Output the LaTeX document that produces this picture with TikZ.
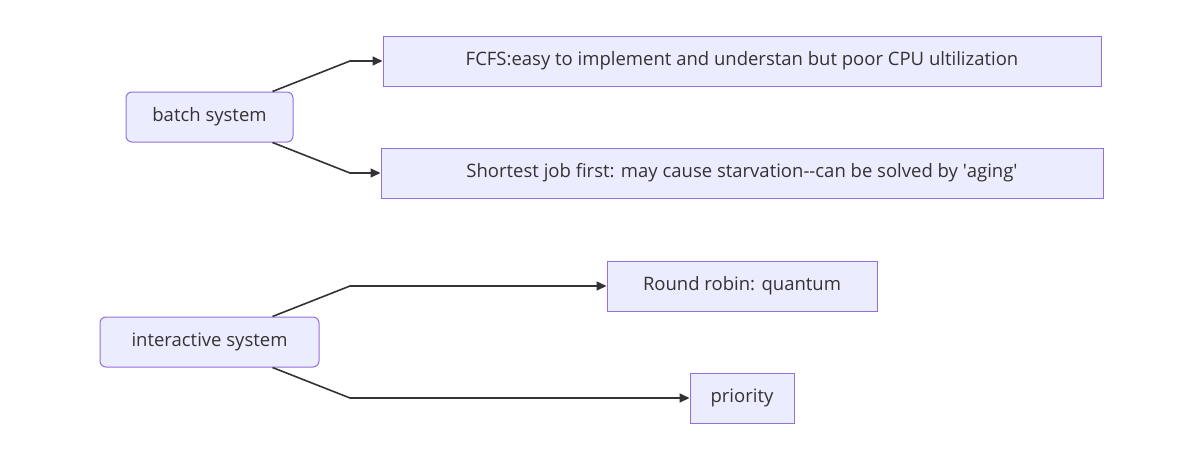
\documentclass[tikz,border=0pt]{standalone}
\usepackage{fontspec}
\setmainfont{Open Sans}
\usetikzlibrary{arrows.meta,calc}
\definecolor{nodefill}{HTML}{ECECFF}
\definecolor{nodeline}{HTML}{9370DB}
\definecolor{ink}{HTML}{333333}
\tikzset{
  box/.style={draw=nodeline,fill=nodefill,line width=1pt,text=ink,minimum height=50pt,inner sep=0pt},
  sysbox/.style={box,rounded corners=6pt},
  edge/.style={draw=ink,line width=1.6pt,-{Triangle[length=10pt,width=9pt]}}
}
\begin{document}
\begin{tikzpicture}[x=1pt,y=-1pt,font=\fontsize{18.5}{22}\selectfont]
\useasboundingbox (0,0) rectangle (1197,455);
\node[sysbox,minimum width=167pt] (batch) at (209.5,117) {batch system};
\node[sysbox,minimum width=219pt] (inter) at (209.5,342) {interactive system};
\node[box,minimum width=718pt] (fcfs) at (742,61) {FCFS:easy to implement and understan but poor CPU ultilization};
\node[box,minimum width=722pt] (sjf) at (742,173) {Shortest job first: may cause starvation{-}{-}can be solved by \textquotesingle aging\textquotesingle};
\node[box,minimum width=270pt] (rr) at (742,286) {Round robin: quantum};
\node[box,minimum width=104pt] (prio) at (742,398) {priority};
\coordinate (bend) at (350,0);

\draw[edge] ([xshift=-21pt]batch.north east) -- (fcfs.west -| bend) -- (fcfs.west);
\draw[edge] ([xshift=-21pt]batch.south east) -- (sjf.west -| bend) -- (sjf.west);
\draw[edge] ([xshift=-47pt]inter.north east) -- (rr.west -| bend) -- (rr.west);
\draw[edge] ([xshift=-47pt]inter.south east) -- (prio.west -| bend) -- (prio.west);
\end{tikzpicture}
\end{document}
